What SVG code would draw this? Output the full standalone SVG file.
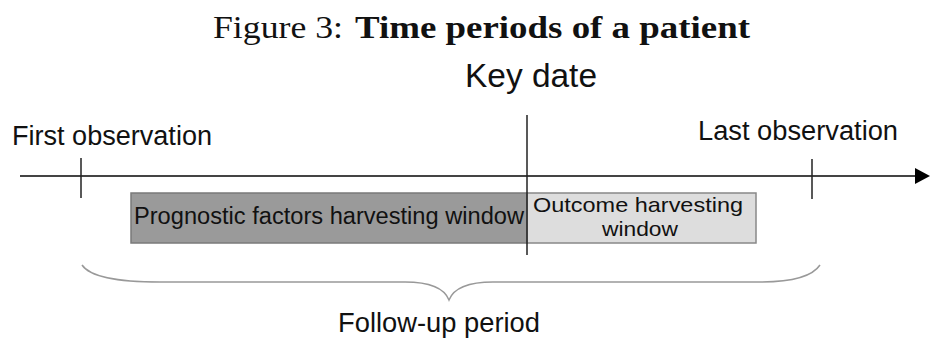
<svg xmlns="http://www.w3.org/2000/svg" width="930" height="342" viewBox="0 0 930 342">
<style>
.t{font-family:"Liberation Sans",Arial,sans-serif;fill:#111}
.s{font-family:"Liberation Serif","Times New Roman",serif;fill:#111}
.ax{stroke:#444;stroke-width:2;fill:none}
.tk{stroke:#222;stroke-width:1.5;fill:none}
</style>
<rect width="930" height="342" fill="#fff"/>
<g id="title">
<text class="s" x="213" y="38" font-size="31" textLength="130" lengthAdjust="spacingAndGlyphs">Figure 3:</text>
<text class="s" x="355" y="38" font-size="31" font-weight="bold" textLength="395" lengthAdjust="spacingAndGlyphs">Time periods of a patient</text>
</g>
<g id="prognostic-window">
<rect x="131" y="193" width="396" height="50" fill="#9a9a9a" stroke="#7a7a7a" stroke-width="1.5"/>
<text class="t" x="134" y="224" font-size="23" textLength="390" lengthAdjust="spacingAndGlyphs">Prognostic factors harvesting window</text>
</g>
<g id="outcome-window">
<rect x="527" y="193" width="229" height="50" fill="#ddd" stroke="#888" stroke-width="1.5"/>
<text class="t" x="533" y="212" font-size="21" textLength="210" lengthAdjust="spacingAndGlyphs">Outcome harvesting</text>
<text class="t" x="602" y="236" font-size="21" textLength="76" lengthAdjust="spacingAndGlyphs">window</text>
</g>
<g id="connectors">
<line class="ax" x1="20" y1="176" x2="917" y2="176"/>
<polygon points="915,168 930,176 915,184" fill="#000"/>
<line class="tk" x1="81" y1="158" x2="81" y2="198"/>
<line class="tk" x1="812" y1="159" x2="812" y2="199"/>
<line class="tk" x1="527" y1="115" x2="527" y2="255"/>
<path d="M82,265 C90,277 120,282 160,282 L405,282 C432,282 445,290 449,300 C453,290 466,282 493,282 L760,282 C792,282 812,277 820,265" fill="none" stroke="#999" stroke-width="1.5"/>
</g>
<g id="key-date">
<text class="t" x="465" y="87" font-size="33" textLength="132" lengthAdjust="spacingAndGlyphs">Key date</text>
</g>
<g id="first-observation">
<text class="t" x="12" y="145" font-size="27" textLength="200" lengthAdjust="spacingAndGlyphs">First observation</text>
</g>
<g id="last-observation">
<text class="t" x="698" y="140" font-size="27" textLength="200" lengthAdjust="spacingAndGlyphs">Last observation</text>
</g>
<g id="follow-up">
<text class="t" x="338" y="332" font-size="27" textLength="202" lengthAdjust="spacingAndGlyphs">Follow-up period</text>
</g>
</svg>
